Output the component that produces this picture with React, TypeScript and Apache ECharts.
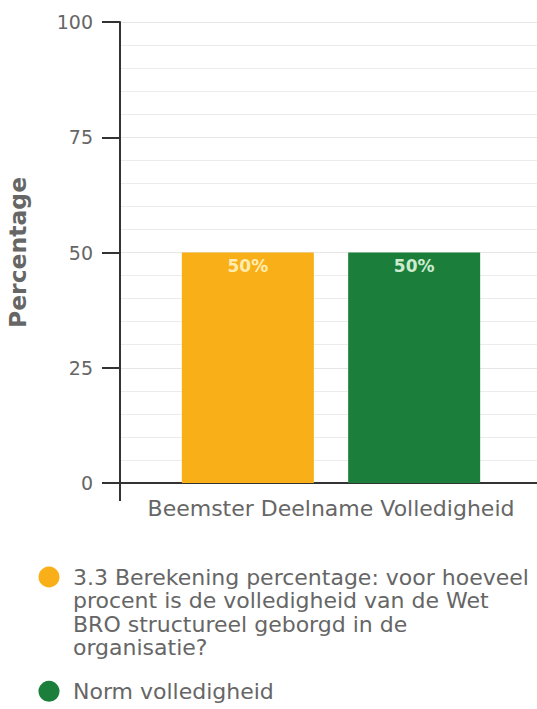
import React, { useEffect, useRef } from "react";
import * as echarts from "echarts";

const categories = ["Beemster Deelname Volledigheid"];
const legendLines1 = [
  "3.3 Berekening percentage: voor hoeveel",
  "procent is de volledigheid van de Wet",
  "BRO structureel geborgd in de",
  "organisatie?",
];
const seriesName1 = legendLines1.join(" ");
const seriesName2 = "Norm volledigheid";
const values1 = [50];
const values2 = [50];
const yTicks = { min: 0, max: 100, interval: 25 };

const FONT = "DejaVu Sans";
const GRAY = "#666666";
const AXIS = "#333333";
const LH = 23.5;

export default function App() {
  const ref = useRef<HTMLDivElement>(null);
  useEffect(() => {
    if (!ref.current) return;
    const chart = echarts.init(ref.current, undefined, { renderer: "svg" });
    chart.setOption({
      animation: false,
      backgroundColor: "#ffffff",
      grid: {
        left: 120,
        right: -5,
        top: 22,
        bottom: 226,
        containLabel: false,
        outerBoundsMode: "none",
      },
      xAxis: {
        type: "category",
        data: categories,
        axisLine: { show: true, lineStyle: { color: AXIS, width: 2 } },
        axisTick: { show: true, length: 18, alignWithLabel: false, lineStyle: { color: AXIS, width: 2 } },
        axisLabel: { fontSize: 22, color: GRAY, fontFamily: FONT, margin: 14 },
        splitLine: { show: false },
      },
      yAxis: {
        type: "value",
        min: yTicks.min,
        max: yTicks.max,
        interval: yTicks.interval,
        name: "Percentage",
        nameLocation: "middle",
        nameRotate: 90,
        nameGap: 90,
        nameTextStyle: { fontSize: 23.5, fontWeight: "bold", color: GRAY, fontFamily: FONT },
        axisLine: { show: true, lineStyle: { color: AXIS, width: 2 } },
        axisTick: { show: true, length: 18, lineStyle: { color: AXIS, width: 2 } },
        axisLabel: { fontSize: 19, color: GRAY, fontFamily: FONT, margin: 27 },
        splitLine: { show: true, lineStyle: { color: "#e6e6e6", width: 1 } },
        minorTick: { show: false, splitNumber: 5 },
        minorSplitLine: { show: true, lineStyle: { color: "#ececec", width: 1 } },
      },
      legend: [
        {
          data: [seriesName1],
          orient: "vertical",
          left: 38.5,
          top: 577 - 3.5 * LH,
          padding: 0,
          itemWidth: 21,
          itemHeight: 21,
          icon: "circle",
          selectedMode: false,
          formatter: () => "\n\n\n" + legendLines1.join("\n"),
          textStyle: {
            fontSize: 22,
            lineHeight: LH,
            color: GRAY,
            fontFamily: FONT,
            padding: [0, 0, 0, 8.5],
          },
        },
        {
          data: [seriesName2],
          orient: "vertical",
          left: 38.5,
          top: 679.5,
          padding: 0,
          itemWidth: 21,
          itemHeight: 21,
          icon: "circle",
          selectedMode: false,
          textStyle: {
            fontSize: 22,
            lineHeight: LH,
            color: GRAY,
            fontFamily: FONT,
            padding: [0, 0, 0, 8.5],
          },
        },
      ],
      series: [
        {
          name: seriesName1,
          type: "bar",
          data: values1,
          barWidth: 132,
          barGap: "26%",
          itemStyle: { color: "#F9AF18" },
          label: {
            show: true,
            position: "insideTop",
            distance: 5,
            formatter: "{c}%",
            fontSize: 17,
            fontWeight: "bold",
            fontFamily: FONT,
            color: "#FFEDB0",
          },
        },
        {
          name: seriesName2,
          type: "bar",
          data: values2,
          barWidth: 132,
          barGap: "26%",
          itemStyle: { color: "#1B7F3B" },
          label: {
            show: true,
            position: "insideTop",
            distance: 5,
            formatter: "{c}%",
            fontSize: 17,
            fontWeight: "bold",
            fontFamily: FONT,
            color: "#CDEBCF",
          },
        },
      ],
    });
    return () => chart.dispose();
  }, []);
  return (
    <div
      ref={ref}
      style={{ position: "fixed", left: 0, top: 0, width: 537, height: 709, background: "#fff" }}
    />
  );
}
